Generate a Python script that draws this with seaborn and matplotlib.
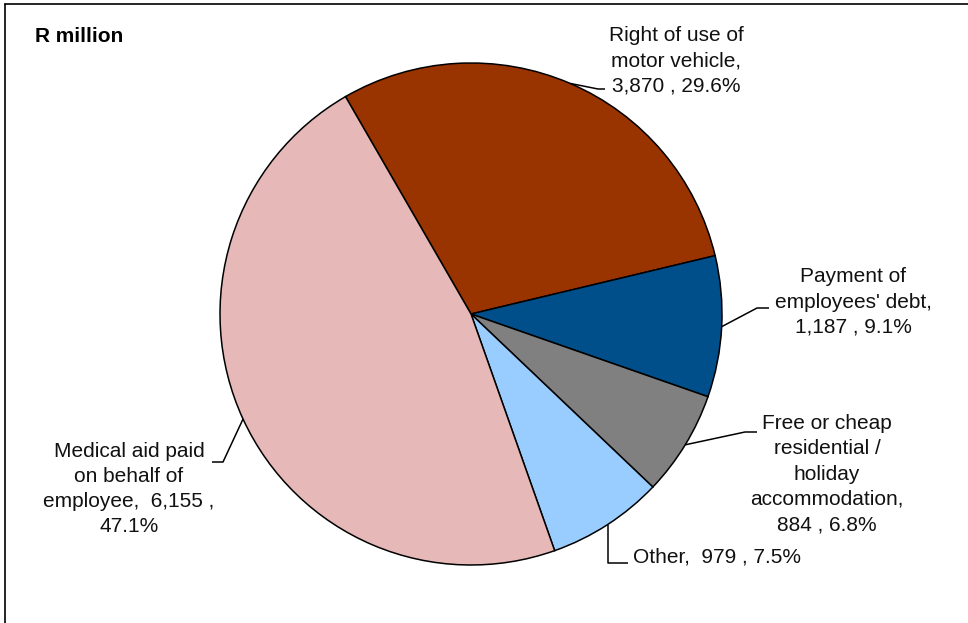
import matplotlib
matplotlib.use("Agg")
import numpy as np
import matplotlib.pyplot as plt
import seaborn as sns
from matplotlib.lines import Line2D

# ---- data ----
categories = ["Right of use of motor vehicle",
              "Payment of employees' debt",
              "Free or cheap residential / holiday accommodation",
              "Other",
              "Medical aid paid on behalf of employee"]
values = [3870, 1187, 884, 979, 6155]
percents = [29.6, 9.1, 6.8, 7.5, 47.1]
label_texts = ["Right of use of\nmotor vehicle,\n3,870 , 29.6%",
               "Payment of\nemployees' debt,\n1,187 , 9.1%",
               "Free or cheap\nresidential /\nholiday\naccommodation,\n884 , 6.8%",
               "Other,  979 , 7.5%",
               "Medical aid paid\non behalf of\nemployee,  6,155 ,\n47.1%"]
colors = ["#993300", "#004F8B", "#808080", "#99CCFF", "#E6B9B8"]
unit_label = "R million"

# ---- figure ----
sns.set_theme(style="white")
plt.rcParams['font.family'] = ['Liberation Sans', 'DejaVu Sans']

W, H = 968, 623
fig = plt.figure(figsize=(W / 100, H / 100), dpi=100)
ax = fig.add_axes([0, 0, 1, 1])

def Y(y):
    return H - y

cx, cy, R = 471, 314, 251
wedges, _ = ax.pie(values, colors=colors, startangle=120, counterclock=False,
                   center=(cx, Y(cy)), radius=R,
                   wedgeprops=dict(edgecolor="black", linewidth=1.1))
ax.set_xlim(0, W)
ax.set_ylim(0, H)
ax.set_aspect("equal")
ax.axis("off")

# label layout: (text x, text y, ha, elbow points list)
layout = [
    dict(tx=676, ty=61, ha="center", path=[(598, 89), (605, 89)]),
    dict(tx=853, ty=302, ha="center", path=[(757, 308), (769, 308)]),
    dict(tx=827, ty=474, ha="center", path=[(745, 432), (757, 432)]),
    dict(tx=633, ty=557, ha="left", path=[None, (628, 563)]),
    dict(tx=129, ty=489, ha="center", path=[(223, 462), (212, 462)]),
]

fs = 15
for w, txt, lay in zip(wedges, label_texts, layout):
    mid = np.deg2rad((w.theta1 + w.theta2) / 2)
    ax_x = cx + R * np.cos(mid)
    ax_y = cy - R * np.sin(mid)
    pts = [(ax_x, ax_y)]
    for p in lay["path"]:
        if p is None:
            pts.append((ax_x, lay["path"][-1][1]))
        else:
            pts.append(p)
    xs = [p[0] for p in pts]
    ys = [Y(p[1]) for p in pts]
    ax.plot(xs, ys, color="black", lw=1.1, solid_capstyle="butt", zorder=5)
    ax.text(lay["tx"], Y(lay["ty"]), txt, ha=lay["ha"], va="center",
            multialignment="center", fontsize=fs, color="#111111",
            linespacing=1.42)

ax.text(35, Y(37), unit_label, ha="left", va="center", fontsize=fs,
        fontweight="bold", color="black")

# chart-area frame (top and left visible)
fig.add_artist(Line2D([5 / W, 1.0], [1 - 4 / H, 1 - 4 / H], transform=fig.transFigure,
                      color="black", lw=1.2))
fig.add_artist(Line2D([5 / W, 5 / W], [0.0, 1 - 4 / H], transform=fig.transFigure,
                      color="black", lw=1.2))

fig.savefig("out.png", dpi=100, facecolor="white")
